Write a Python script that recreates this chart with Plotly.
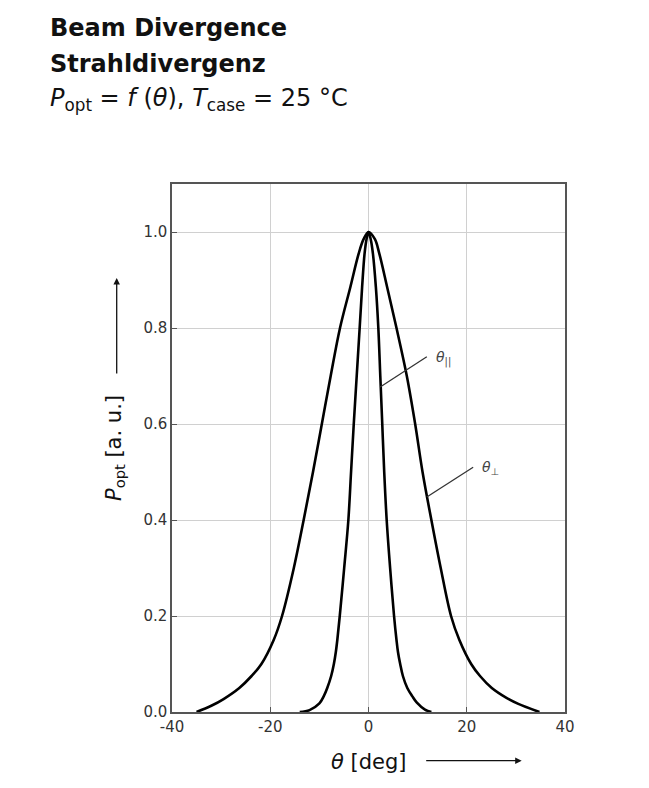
import plotly.graph_objects as go

# ---- data ----
perp_angle = [-35.0, -32.0, -29.5, -26.3, -23.8, -21.8, -19.3, -17.6, -15.2, -13.2, -11.3, -9.5, -7.7, -5.8,
              -3.7, -2.0, -1.0, 0.0,
              1.3, 2.2, 3.8, 5.7, 7.8, 9.5, 11.0, 12.8, 14.7, 16.8, 18.5, 20.9, 22.7, 25.1, 28.0, 30.5, 34.8]
perp_power = [0.0, 0.013, 0.027, 0.05, 0.075, 0.10, 0.15, 0.20, 0.30, 0.40, 0.50, 0.60, 0.70, 0.80,
              0.885, 0.955, 0.985, 1.0,
              0.985, 0.955, 0.885, 0.80, 0.70, 0.60, 0.50, 0.40, 0.30, 0.20, 0.15, 0.10, 0.075, 0.05, 0.03, 0.017, 0.0]

par_angle = [-14.0, -12.0, -10.0, -9.1, -8.4, -7.6, -7.05, -6.65, -6.35, -5.85, -4.95, -4.1, -3.55, -3.0, -2.4,
             -1.8, -1.3, -0.8, -0.4, 0.0,
             0.45, 0.9, 1.5, 2.0, 2.4, 2.8, 3.2, 3.7, 4.4, 5.2, 5.7, 6.0, 6.45, 7.0, 7.9, 8.9, 9.8, 11.5, 12.8]
par_power = [0.0, 0.004, 0.018, 0.033, 0.05, 0.075, 0.10, 0.125, 0.15, 0.20, 0.30, 0.40, 0.50, 0.60, 0.70,
             0.80, 0.885, 0.955, 0.985, 1.0,
             0.985, 0.955, 0.885, 0.80, 0.70, 0.60, 0.50, 0.40, 0.30, 0.20, 0.15, 0.125, 0.10, 0.075, 0.05, 0.033,
             0.02, 0.005, 0.0]

x_ticks = [-40, -20, 0, 20, 40]
y_ticks = [0.0, 0.2, 0.4, 0.6, 0.8, 1.0]

FONT = "DejaVu Sans"

fig = go.Figure()
for xs, ys in [(perp_angle, perp_power), (par_angle, par_power)]:
    fig.add_trace(go.Scatter(x=xs, y=ys, mode="lines",
                             line=dict(color="black", width=2.6, shape="spline", smoothing=1.0),
                             showlegend=False, hoverinfo="skip"))

axis_common = dict(showline=True, linecolor="#555555", linewidth=1.5, mirror=True,
                   showgrid=True, gridcolor="#d0d0d0", gridwidth=1, zeroline=False,
                   ticks="inside", ticklen=5, tickcolor="#555555",
                   tickfont=dict(family=FONT, size=15, color="#333333"))

fig.update_xaxes(range=[-40, 40], tickvals=x_ticks, ticktext=[str(v) for v in x_ticks], **axis_common)
fig.update_yaxes(range=[0, 1.1], tickvals=y_ticks, ticktext=[f"{v:.1f}" for v in y_ticks], **axis_common)

# leader lines for curve labels
fig.add_shape(type="line", xref="x", yref="y", x0=2.38, y0=0.677, x1=11.87, y1=0.740,
              line=dict(color="#333333", width=1.3))
fig.add_shape(type="line", xref="x", yref="y", x0=11.87, y0=0.448, x1=21.3, y1=0.510,
              line=dict(color="#333333", width=1.3))

annos = []
annos.append(dict(x=13.3, y=0.737, xref="x", yref="y", xanchor="left", yanchor="middle",
                  text="<i>θ</i><sub>||</sub>", showarrow=False,
                  font=dict(family=FONT, size=14, color="#444444")))
annos.append(dict(x=22.6, y=0.508, xref="x", yref="y", xanchor="left", yanchor="middle",
                  text="<i>θ</i><sub>⊥</sub>", showarrow=False,
                  font=dict(family=FONT, size=14, color="#444444")))

# axis titles
annos.append(dict(x=-0.145, y=0.5, xref="paper", yref="paper", xanchor="center", yanchor="middle",
                  text="<i>P</i><sub>opt</sub> [a. u.]", textangle=-90, showarrow=False,
                  font=dict(family=FONT, size=21, color="#111111")))
annos.append(dict(x=0.0, y=-0.0947, xref="x", yref="paper", xanchor="center", yanchor="middle",
                  text="<i>θ</i> [deg]", showarrow=False,
                  font=dict(family=FONT, size=21, color="#111111")))

# arrows next to axis titles
annos.append(dict(x=-0.1407, y=0.822, xref="paper", yref="paper", text="", showarrow=True,
                  ax=0, ay=97, arrowhead=2, arrowsize=1, arrowwidth=1.3, arrowcolor="#111111"))
annos.append(dict(x=0.8898, y=-0.0922, xref="paper", yref="paper", text="", showarrow=True,
                  ax=-97, ay=0, arrowhead=2, arrowsize=1, arrowwidth=1.3, arrowcolor="#111111"))

# title block
tx = (48 - 172) / 393
annos.append(dict(x=tx, y=(712 - 27.5) / 528, xref="paper", yref="paper", xanchor="left", yanchor="middle",
                  text="<b>Beam Divergence</b>", showarrow=False,
                  font=dict(family=FONT, size=24, color="#111111")))
annos.append(dict(x=tx, y=(712 - 64) / 528, xref="paper", yref="paper", xanchor="left", yanchor="middle",
                  text="<b>Strahldivergenz</b>", showarrow=False,
                  font=dict(family=FONT, size=24, color="#111111")))
annos.append(dict(x=tx, y=(712 - 100) / 528, xref="paper", yref="paper", xanchor="left", yanchor="middle",
                  text="<i>P</i><sub>opt</sub> = <i>f</i> (<i>θ</i>), <i>T</i><sub>case</sub> = 25 °C",
                  showarrow=False, font=dict(family=FONT, size=24, color="#111111")))

fig.update_layout(width=649, height=788, margin=dict(l=172, r=84, t=184, b=76),
                  paper_bgcolor="white", plot_bgcolor="white", annotations=annos)

fig.write_html("out.html")
